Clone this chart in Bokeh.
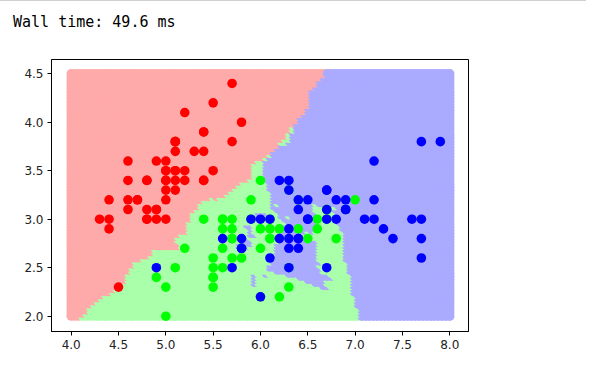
import numpy as np
from bokeh.plotting import figure
from bokeh.layouts import column
from bokeh.models import FixedTicker, NumeralTickFormatter, Div
from bokeh.embed import file_html
from bokeh.resources import INLINE

# Iris data: sepal length / sepal width per species
setosa_len = [5.1,4.9,4.7,4.6,5.0,5.4,4.6,5.0,4.4,4.9,5.4,4.8,4.8,4.3,5.8,5.7,5.4,5.1,5.7,5.1,5.4,5.1,4.6,5.1,4.8,5.0,5.0,5.2,5.2,4.7,4.8,5.4,5.2,5.5,4.9,5.0,5.5,4.9,4.4,5.1,5.0,4.5,4.4,5.0,5.1,4.8,5.1,4.6,5.3,5.0]
setosa_wid = [3.5,3.0,3.2,3.1,3.6,3.9,3.4,3.4,2.9,3.1,3.7,3.4,3.0,3.0,4.0,4.4,3.9,3.5,3.8,3.8,3.4,3.7,3.6,3.3,3.4,3.0,3.4,3.5,3.4,3.2,3.1,3.4,4.1,4.2,3.1,3.2,3.5,3.6,3.0,3.4,3.5,2.3,3.2,3.5,3.8,3.0,3.8,3.2,3.7,3.3]
versi_len = [7.0,6.4,6.9,5.5,6.5,5.7,6.3,4.9,6.6,5.2,5.0,5.9,6.0,6.1,5.6,6.7,5.6,5.8,6.2,5.6,5.9,6.1,6.3,6.1,6.4,6.6,6.8,6.7,6.0,5.7,5.5,5.5,5.8,6.0,5.4,6.0,6.7,6.3,5.6,5.5,5.5,6.1,5.8,5.0,5.6,5.7,5.7,6.2,5.1,5.7]
versi_wid = [3.2,3.2,3.1,2.3,2.8,2.8,3.3,2.4,2.9,2.7,2.0,3.0,2.2,2.9,2.9,3.1,3.0,2.7,2.2,2.5,3.2,2.8,2.5,2.8,2.9,3.0,2.8,3.0,2.9,2.6,2.4,2.4,2.7,2.7,3.0,3.4,3.1,2.3,3.0,2.5,2.6,3.0,2.6,2.3,2.7,3.0,2.9,2.9,2.5,2.8]
virg_len = [6.3,5.8,7.1,6.3,6.5,7.6,4.9,7.3,6.7,7.2,6.5,6.4,6.8,5.7,5.8,6.4,6.5,7.7,7.7,6.0,6.9,5.6,7.7,6.3,6.7,7.2,6.2,6.1,6.4,7.2,7.4,7.9,6.4,6.3,6.1,7.7,6.3,6.4,6.0,6.9,6.7,6.9,5.8,6.8,6.7,6.7,6.3,6.5,6.2,5.9]
virg_wid = [3.3,2.7,3.0,2.9,3.0,3.0,2.5,2.9,2.5,3.6,3.2,2.7,3.0,2.5,2.8,3.2,3.0,3.8,2.6,2.2,3.2,2.8,2.8,2.7,3.3,3.2,2.8,3.0,2.8,3.0,2.8,3.8,2.8,2.8,2.6,3.0,3.4,3.1,3.0,3.1,3.1,3.1,2.7,3.2,3.3,3.0,2.5,3.0,3.4,3.0]

light_colors = ["#FFAAAA", "#AAFFAA", "#AAAAFF"]
bold_colors = ["#FF0000", "#00FF00", "#0000FF"]
x_ticks = [4.0, 4.5, 5.0, 5.5, 6.0, 6.5, 7.0, 7.5, 8.0]
y_ticks = [2.0, 2.5, 3.0, 3.5, 4.0, 4.5]
wall_time_text = "Wall time: 49.6 ms"

# KNN (k=5, uniform) prediction over the plotting mesh, as in the original notebook
n_neighbors = 5
X = np.column_stack([setosa_len + versi_len + virg_len, setosa_wid + versi_wid + virg_wid])
y = np.array([0] * len(setosa_len) + [1] * len(versi_len) + [2] * len(virg_len))
mx, my = np.meshgrid(np.linspace(4, 8, 100), np.linspace(2, 4.5, 80))
mesh = np.column_stack([mx.ravel(), my.ravel()])
d2 = ((mesh[:, None, :] - X[None, :, :]) ** 2).sum(-1)
nn = y[np.argsort(d2, axis=1, kind="stable")[:, :n_neighbors]]
counts = np.stack([(nn == c).sum(1) for c in range(3)], 1)
pred = counts.argmax(1)
mesh_colors = [light_colors[c] for c in pred]

header = Div(text=wall_time_text, width=586, height=48, margin=0,
             styles={"font-family": "DejaVu Sans Mono", "font-size": "15px",
                     "line-height": "44.6px", "text-indent": "13px", "color": "black",
                     "white-space": "pre", "box-shadow": "inset 0 1px 0 #d0d0d0"})

p = figure(frame_width=417, frame_height=272,
           min_border_left=51, min_border_right=118, min_border_top=11, min_border_bottom=33,
           x_range=(3.792, 8.198), y_range=(1.842, 4.647),
           toolbar_location=None, output_backend="svg", margin=0)
p.background_fill_color = "white"
p.border_fill_color = "white"
p.outline_line_color = "black"
p.outline_line_width = 1
p.grid.visible = False

p.scatter(mesh[:, 0], mesh[:, 1], size=9.4, fill_color=mesh_colors, line_color=None)
for xs, ys, c in [(setosa_len, setosa_wid, bold_colors[0]),
                  (versi_len, versi_wid, bold_colors[1]),
                  (virg_len, virg_wid, bold_colors[2])]:
    p.scatter(xs, ys, size=9.6, fill_color=c, line_color=None)

for ax, ticks in [(p.xaxis, x_ticks), (p.yaxis, y_ticks)]:
    ax.ticker = FixedTicker(ticks=ticks)
    ax.formatter = NumeralTickFormatter(format="0.0")
    ax.minor_tick_line_color = None
    ax.major_tick_in = 0
    ax.major_tick_out = 4
    ax.major_tick_line_color = "black"
    ax.axis_line_color = "black"
    ax.major_label_text_font = "DejaVu Sans"
    ax.major_label_text_font_size = "12px"
    ax.major_label_text_color = "#222222"
    ax.major_label_standoff = 4

layout = column(header, p, spacing=0, margin=0)
open("out.html", "w").write(file_html(layout, INLINE))
